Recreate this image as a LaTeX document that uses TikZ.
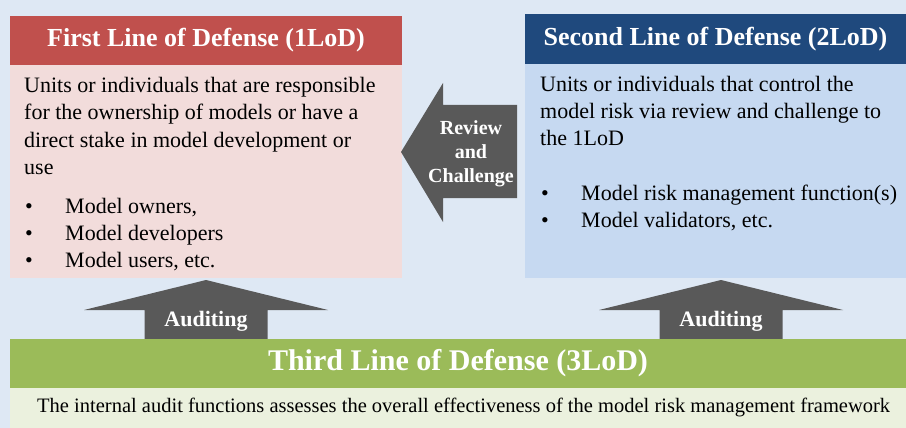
\documentclass[tikz,border=0pt]{standalone}
\usepackage{fontspec}
\setmainfont{Liberation Serif}
\usetikzlibrary{positioning}

\definecolor{bgblue}{HTML}{DEE8F4}
\definecolor{redhdr}{HTML}{C0504D}
\definecolor{pinkbody}{HTML}{F2DCDB}
\definecolor{bluehdr}{HTML}{1F497D}
\definecolor{bluebody}{HTML}{C6D9F1}
\definecolor{greenbar}{HTML}{9BBB59}
\definecolor{greenbody}{HTML}{EBF1DE}
\definecolor{arrowgray}{HTML}{595959}

\tikzset{
  box/.style={rectangle, draw=none, inner sep=0pt, outer sep=0pt},
  hdr/.style={box, text=white, font=\fontsize{26}{30}\selectfont\bfseries},
  bodytext/.style={inner sep=0pt, anchor=base west, font=\fontsize{22}{27}\selectfont},
  arrowtext/.style={inner sep=0pt, text=white, font=\fontsize{20}{24}\selectfont\bfseries},
  blockarrow/.style={fill=arrowgray, draw=none}
}

\begin{document}
\begin{tikzpicture}[x=1pt, y=-1pt]
	\useasboundingbox[fill=bgblue] (0,0) rectangle (906,428);

	% first line
	\node[hdr, fill=redhdr, minimum width=392pt, minimum height=49pt, anchor=north west] (h1) at (10,16) {First Line of Defense (1LoD)};
	\node[box, fill=pinkbody, minimum width=392pt, minimum height=213pt, below=0pt of h1] (b1) {};
	\foreach \txt [count=\i] in {Units or individuals that are responsible, for the ownership of models or have a, direct stake in model development or, use}
	\node[bodytext] (p1-\i) at (24,66+27*\i) {\txt};
	\foreach \txt [count=\i] in {{Model owners,}, Model developers, {Model users, etc.}}
	\node[bodytext] (u1-\i) at (25,186+27*\i) {\makebox[40pt][l]{\textbullet}\txt};

	% second line
	\node[hdr, fill=bluehdr, minimum width=381pt, minimum height=50pt, anchor=north west] (h2) at (525,14) {Second Line of Defense (2LoD)};
	\node[box, fill=bluebody, minimum width=381pt, minimum height=214pt, below=0pt of h2] (b2) {};
	\foreach \txt [count=\i] in {Units or individuals that control the, model risk via review and challenge to, the 1LoD}
	\node[bodytext] (p2-\i) at (540,65+27*\i) {\txt};
	\foreach \txt [count=\i] in {Model risk management function(s), {Model validators, etc.}}
	\node[bodytext] (u2-\i) at (541,173+27*\i) {\makebox[40pt][l]{\textbullet}\txt};

	% review and challenge
	\draw[blockarrow] (401,152) -- (443,83) -- (443,105) -- (517,105) -- (517,198) -- (443,198) -- (443,222) -- cycle;
	\node[arrowtext, align=center] (rc) at (471,154) {Review\\and\\Challenge};

	% auditing
	\foreach \cx in {206,721}
	\draw[blockarrow] (\cx,280) -- (\cx+122,310) -- (\cx+61.5,310) -- (\cx+61.5,340) -- (\cx-61.5,340) -- (\cx-61.5,310) -- (\cx-122,310) -- cycle;
	\node[arrowtext, font=\fontsize{22}{26}\selectfont\bfseries, anchor=base] (a1) at (206,326) {Auditing};
	\node[arrowtext, font=\fontsize{22}{26}\selectfont\bfseries, anchor=base] (a2) at (721,326) {Auditing};

	% third line
	\node[hdr, fill=greenbar, font=\fontsize{30}{34}\selectfont\bfseries, minimum width=896pt, minimum height=49pt, anchor=north west] (h3) at (10,339) {Third Line of Defense (3LoD)};
	\node[box, fill=greenbody, minimum width=896pt, minimum height=40pt, below=0pt of h3] (b3) {};
	\node[bodytext, font=\fontsize{20.5}{24}\selectfont] (p3) at (37,412) {The internal audit functions assesses the overall effectiveness of the model risk management framework};
\end{tikzpicture}
\end{document}
